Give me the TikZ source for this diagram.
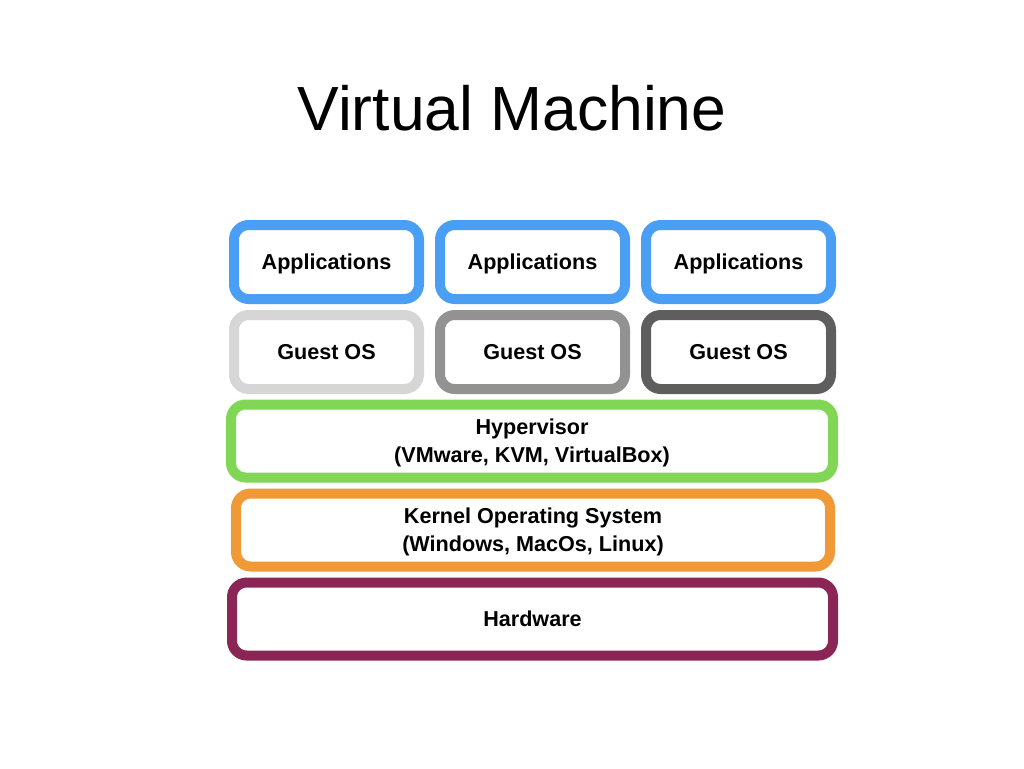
\documentclass[tikz,border=0pt]{standalone}
\usepackage{fontspec}
\setmainfont{Liberation Sans}
\usetikzlibrary{shapes,calc}

\definecolor{appblue}{HTML}{4A9FF5}
\definecolor{guestlight}{HTML}{D6D6D6}
\definecolor{guestmid}{HTML}{929292}
\definecolor{guestdark}{HTML}{5E5E5E}
\definecolor{hypgreen}{HTML}{81D655}
\definecolor{kernorange}{HTML}{F09A37}
\definecolor{hwpurple}{HTML}{8A2556}

\begin{document}
\begin{tikzpicture}[x=0.75pt,y=-0.75pt]
				\tikzstyle{layer}=[rectangle, draw, fill=white, line width=7.5pt, rounded corners=11pt, align=center, text depth=0pt, font=\fontsize{16.2}{21}\selectfont\bfseries]
				\tikzstyle{small}=[layer, minimum width=138.75pt, minimum height=55.5pt]
				\tikzstyle{wide}=[layer, minimum height=54.75pt]
				\useasboundingbox (0,0) rectangle (1024,768);
				\node[anchor=base, font=\fontsize{46.8}{50}\selectfont] (title) at (512,130) {Virtual Machine};
				% applications
				\node[small, draw=appblue] (app1) at (326.5,262) {Applications};
				\node[small, draw=appblue] (app2) at (532.5,262) {Applications};
				\node[small, draw=appblue] (app3) at (738.5,262) {Applications};
				% guest systems
				\node[small, draw=guestlight] (guest1) at (326.5,352) {Guest OS};
				\node[small, draw=guestmid] (guest2) at (532.5,352) {Guest OS};
				\node[small, draw=guestdark] (guest3) at (738.5,352) {Guest OS};
				% lower layers
				\node[wide, draw=hypgreen, minimum width=451.5pt] (hyper) at (532,441) {Hypervisor\\(VMware, KVM, VirtualBox)};
				\node[wide, draw=kernorange, minimum width=445.5pt] (kernel) at (533,530) {Kernel Operating System\\(Windows, MacOs, Linux)};
				\node[wide, draw=hwpurple, minimum width=450.75pt] (hw) at (532.5,619) {Hardware};
			\end{tikzpicture}
\end{document}
